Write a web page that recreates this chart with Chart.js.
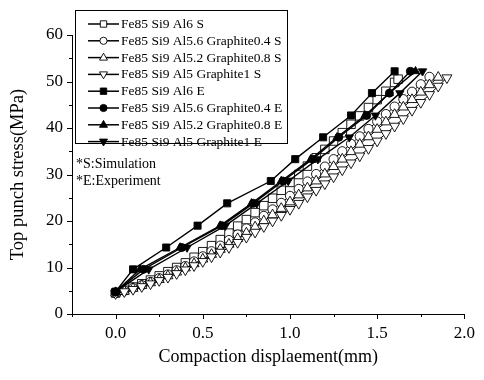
<!DOCTYPE html>
<html><head><meta charset="utf-8">
<script src="https://cdn.jsdelivr.net/npm/chart.js@4/dist/chart.umd.min.js"></script>
<style>html,body{margin:0;padding:0;background:#fff}</style>
</head><body>
<canvas id="c" width="484" height="380"></canvas>
<script>
// ---- data ----
const seriesNames = [
  "Fe85 Si9 Al6 S", "Fe85 Si9 Al5.6 Graphite0.4 S", "Fe85 Si9 Al5.2 Graphite0.8 S", "Fe85 Si9 Al5 Graphite1 S",
  "Fe85 Si9 Al6 E", "Fe85 Si9 Al5.6 Graphite0.4 E", "Fe85 Si9 Al5.2 Graphite0.8 E", "Fe85 Si9 Al5 Graphite1 E"
];
const notes = ["*S:Simulation", "*E:Experiment"];
const xTitle = "Compaction displaement(mm)";
const yTitle = "Top punch stress(MPa)";
const xTicks = [0, 0.5, 1.0, 1.5, 2.0];
const xMinorTicks = [-0.25, 0.25, 0.75, 1.25, 1.75];
const yTicks = [0, 10, 20, 30, 40, 50, 60];
const yMinorTicks = [5, 15, 25, 35, 45, 55];

// simulation series
const simAl6X = [0,0.05,0.10,0.15,0.20,0.25,0.30,0.35,0.40,0.45,0.50,0.55,0.60,0.65,0.70,0.75,0.80,0.85,0.90,0.95,1.00,1.05,1.10,1.15,1.20,1.25,1.30,1.35,1.40,1.45,1.50,1.55,1.60,1.62];
const simAl6Y = [4.5,5.1,5.8,6.5,7.3,8.2,9.1,10.0,11.0,12.2,13.4,14.7,16.0,17.4,18.9,20.3,21.8,23.3,24.9,26.6,28.3,30.0,31.8,33.6,35.4,37.2,39.0,40.8,42.6,44.4,46.1,47.9,49.8,50.5];
const simG04X = [0,0.05,0.10,0.15,0.20,0.25,0.30,0.35,0.40,0.45,0.50,0.55,0.60,0.65,0.70,0.75,0.80,0.85,0.90,0.95,1.00,1.05,1.10,1.15,1.20,1.25,1.30,1.35,1.40,1.45,1.50,1.55,1.60,1.65,1.70,1.75,1.80];
const simG04Y = [4.5,5.0,5.6,6.2,6.9,7.7,8.5,9.4,10.3,11.3,12.4,13.5,14.7,15.9,17.1,18.4,19.7,21.1,22.5,23.9,25.4,26.9,28.5,30.1,31.7,33.3,35.0,36.6,38.2,39.8,41.4,43.0,44.6,46.2,47.8,49.4,51.0];
const simG08X = [0,0.05,0.10,0.15,0.20,0.25,0.30,0.35,0.40,0.45,0.50,0.55,0.60,0.65,0.70,0.75,0.80,0.85,0.90,0.95,1.00,1.05,1.10,1.15,1.20,1.25,1.30,1.35,1.40,1.45,1.50,1.55,1.60,1.65,1.70,1.75,1.80,1.85];
const simG08Y = [4.5,4.9,5.5,6.1,6.7,7.4,8.2,9.0,9.9,10.8,11.8,12.8,13.9,15.0,16.2,17.4,18.7,20.0,21.3,22.7,24.1,25.6,27.1,28.6,30.1,31.7,33.3,34.9,36.5,38.1,39.7,41.3,42.9,44.5,46.1,47.7,49.3,50.9];
const simG1X = [0,0.05,0.10,0.15,0.20,0.25,0.30,0.35,0.40,0.45,0.50,0.55,0.60,0.65,0.70,0.75,0.80,0.85,0.90,0.95,1.00,1.05,1.10,1.15,1.20,1.25,1.30,1.35,1.40,1.45,1.50,1.55,1.60,1.65,1.70,1.75,1.80,1.85,1.90];
const simG1Y = [4.4,4.8,5.3,5.9,6.5,7.2,7.9,8.7,9.5,10.4,11.3,12.3,13.3,14.3,15.4,16.5,17.6,18.8,20.0,21.2,22.5,23.8,25.2,26.6,28.0,29.5,31.0,32.5,34.0,35.6,37.2,38.8,40.4,42.0,43.8,45.5,47.2,49.0,50.8];

// experiment series
const expY = [4.8,9.6,14.3,19.0,23.8,28.6,33.3,38.0,42.7,47.5,52.2];
const expAl6X = [0,0.10,0.29,0.47,0.64,0.89,1.03,1.19,1.35,1.47,1.60];
const expG04X = [0,0.16,0.38,0.61,0.79,0.96,1.13,1.28,1.44,1.57,1.69];
const expG08X = [0,0.14,0.37,0.60,0.78,0.95,1.12,1.27,1.43,1.57,1.72];
const expG1X  = [0,0.19,0.41,0.63,0.81,0.99,1.16,1.34,1.49,1.63,1.76];

// ---- build ----
const pts = (xs, ys) => xs.map((x, i) => ({x, y: ys[i]}));
const styles = [
  {ps:'rect', r:6.0, fill:'#fff', rot:0},
  {ps:'circle', r:4.6, fill:'#fff', rot:0},
  {ps:'triangle', r:5.8, fill:'#fff', rot:0},
  {ps:'triangle', r:5.8, fill:'#fff', rot:180},
  {ps:'rect', r:5.0, fill:'#000', rot:0},
  {ps:'circle', r:4.0, fill:'#000', rot:0},
  {ps:'triangle', r:4.8, fill:'#000', rot:0},
  {ps:'triangle', r:4.8, fill:'#000', rot:180}
];
const dataArr = [
  pts(simAl6X, simAl6Y), pts(simG04X, simG04Y), pts(simG08X, simG08Y), pts(simG1X, simG1Y),
  pts(expAl6X, expY), pts(expG04X, expY), pts(expG08X, expY), pts(expG1X, expY)
];
const datasets = dataArr.map((d, i) => ({
  label: seriesNames[i],
  data: d,
  showLine: true,
  borderColor: '#000',
  borderWidth: i < 4 ? 1 : 1.4,
  pointStyle: styles[i].ps,
  pointRadius: styles[i].r,
  pointRotation: styles[i].rot,
  pointBackgroundColor: styles[i].fill,
  pointBorderColor: '#000',
  pointBorderWidth: 0.9,
  order: i < 4 ? 10 - i : 5 - (i - 4)
}));

const FONT = "'Liberation Serif', 'Times New Roman', serif";

function drawMarker(ctx, st, x, y, r) {
  ctx.save();
  ctx.beginPath();
  if (st.ps === 'rect') {
    ctx.rect(x - r, y - r, 2 * r, 2 * r);
  } else if (st.ps === 'circle') {
    ctx.arc(x, y, r, 0, Math.PI * 2);
  } else {
    const s = st.rot ? -1 : 1;
    ctx.moveTo(x, y - s * r * 1.05);
    ctx.lineTo(x + r * 0.95, y + s * r * 0.6);
    ctx.lineTo(x - r * 0.95, y + s * r * 0.6);
    ctx.closePath();
  }
  ctx.fillStyle = st.fill;
  ctx.fill();
  ctx.lineWidth = 0.9;
  ctx.strokeStyle = '#000';
  ctx.stroke();
  ctx.restore();
}

const decor = {
  id: 'decor',
  afterDraw(chart) {
    const ctx = chart.ctx;
    const xs = chart.scales.x, ys = chart.scales.y;
    const area = chart.chartArea;
    ctx.save();
    ctx.strokeStyle = '#000';
    ctx.lineWidth = 1;
    // ticks (outward)
    ctx.beginPath();
    xTicks.forEach(v => { const p = Math.round(xs.getPixelForValue(v)) + 0.5; ctx.moveTo(p, area.bottom); ctx.lineTo(p, area.bottom + 5); });
    xMinorTicks.forEach(v => { const p = Math.round(xs.getPixelForValue(v)) + 0.5; ctx.moveTo(p, area.bottom); ctx.lineTo(p, area.bottom + 3); });
    yTicks.forEach(v => { const p = Math.round(ys.getPixelForValue(v)) + 0.5; ctx.moveTo(area.left, p); ctx.lineTo(area.left - 5, p); });
    yMinorTicks.forEach(v => { const p = Math.round(ys.getPixelForValue(v)) + 0.5; ctx.moveTo(area.left, p); ctx.lineTo(area.left - 3, p); });
    ctx.stroke();

    // legend box
    const bx = 75.5, by = 10.5, bw = 212, bh = 133;
    ctx.fillStyle = '#fff';
    ctx.fillRect(bx, by, bw, bh);
    ctx.strokeRect(bx, by, bw, bh);
    ctx.font = "13.5px " + FONT;
    ctx.textBaseline = 'middle';
    ctx.textAlign = 'left';
    seriesNames.forEach((name, i) => {
      const cy = 24 + i * 16.8;
      ctx.beginPath();
      ctx.lineWidth = 1.5;
      ctx.moveTo(88, cy); ctx.lineTo(119, cy);
      ctx.stroke();
      const st = styles[i];
      const r = st.ps === 'rect' ? 3.2 : st.ps === 'circle' ? 3.6 : 4.2;
      drawMarker(ctx, st, 103.5, cy, r);
      ctx.fillStyle = '#000';
      ctx.fillText(name, 121, cy + 0.5);
    });
    // notes
    ctx.fillStyle = '#000';
    ctx.font = "14px " + FONT;
    notes.forEach((t, i) => ctx.fillText(t, 76, 164 + i * 17));
    ctx.restore();
  }
};

new Chart(document.getElementById('c'), {
  type: 'scatter',
  data: { datasets },
  options: {
    responsive: false,
    animation: false,
    layout: { padding: { top: 35, right: 18, left: 0, bottom: 0 } },
    plugins: { legend: { display: false }, tooltip: { enabled: false } },
    scales: {
      x: {
        type: 'linear', min: -0.25, max: 2.0,
        afterBuildTicks: s => { s.ticks = xTicks.map(v => ({value: v})); },
        afterFit: s => { s.height = 66; },
        grid: { display: false, drawTicks: false },
        border: { display: true, color: '#000', width: 1 },
        ticks: { color: '#000', padding: 9, font: { family: FONT, size: 17 }, callback: v => Number(v).toFixed(1), maxRotation: 0, autoSkip: false },
        title: { display: true, text: xTitle, color: '#000', font: { family: FONT, size: 18 }, padding: { top: 0, bottom: 12 } }
      },
      y: {
        type: 'linear', min: 0, max: 60,
        afterBuildTicks: s => { s.ticks = yTicks.map(v => ({value: v})); },
        afterFit: s => { s.width = 72; },
        grid: { display: false, drawTicks: false },
        border: { display: true, color: '#000', width: 1 },
        ticks: { color: '#000', padding: 9, font: { family: FONT, size: 17 }, callback: v => String(v), autoSkip: false },
        title: { display: true, text: yTitle, color: '#000', font: { family: FONT, size: 18.5 }, padding: { top: 7, bottom: 0 } }
      }
    }
  },
  plugins: [decor]
});
</script>
</body></html>
